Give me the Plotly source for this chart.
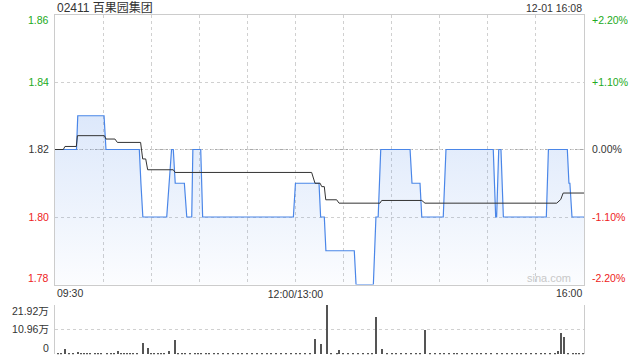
import plotly.graph_objects as go

# ---------------- data ----------------
prev_close = 1.82
title_text = "02411 百果园集团"
stamp_text = "12-01 16:08"

# price line vertices (minutes since 09:30, trading minutes; 150 = 12:00/13:00)
price_t = [0, 13.4, 14.2, 30.6, 31.8, 52.6, 53.6, 54.8, 69.7, 71.1, 72.7, 73.8, 75.0,
           80.7, 82.2, 85.3, 86.0, 90.9, 92.1, 148.7, 150.0, 164.7, 165.7, 168.0, 169.0,
           186.7, 187.8, 198.6, 200.2, 201.6, 203.2, 221.5, 222.7, 227.7, 228.8, 242.2,
           243.9, 273.4, 274.9, 275.5, 276.8, 278.2, 279.7, 306.5, 307.8, 319.6, 320.6,
           321.2, 322.5, 330]
price_v = [1.82, 1.82, 1.83, 1.83, 1.82, 1.82, 1.81, 1.80, 1.80, 1.81, 1.82, 1.82, 1.81,
           1.81, 1.80, 1.80, 1.82, 1.82, 1.80, 1.80, 1.81, 1.81, 1.80, 1.80, 1.79,
           1.79, 1.78, 1.78, 1.80, 1.80, 1.82, 1.82, 1.81, 1.81, 1.80, 1.80,
           1.82, 1.82, 1.80, 1.80, 1.82, 1.82, 1.80, 1.80, 1.82, 1.82, 1.81,
           1.81, 1.80, 1.80]

# average price line vertices
avg_t = [0, 5.2, 6.2, 13.3, 14.0, 30.8, 31.8, 37.4, 38.9, 53.4, 54.7, 56.6, 57.8, 73.8,
         74.9, 160.1, 162.2, 165.4, 166.4, 168.0, 168.9, 175.7, 177.2, 202.7, 203.8,
         228.8, 230.8, 313.0, 315.5, 317.0, 330]
avg_v = [1.8200, 1.8200, 1.8209, 1.8209, 1.8241, 1.8241, 1.8231, 1.8231, 1.8221, 1.8221,
         1.8172, 1.8172, 1.8140, 1.8140, 1.8132, 1.8132, 1.8100, 1.8100, 1.8090, 1.8090,
         1.8051, 1.8051, 1.8041, 1.8041, 1.8049, 1.8049, 1.8041, 1.8041, 1.8052, 1.8071,
         1.8071]

# volume (万股) per minute
vol_t = [6.4, 14.5, 32.6, 39.5, 55.1, 58.2, 71.3, 75.0, 87.3, 150.3, 162.4, 166.1, 169.5,
         175.7, 177.4, 200.4, 204.2, 231.0, 251.0, 314.0, 315.9, 317.4, 327.1, 329.2]
vol_v = [2.2, 1.0, 0.6, 1.5, 5.0, 2.9, 1.5, 6.4, 0.7, 0.6, 6.8, 4.7, 21.92,
         0.6, 1.8, 16.6, 2.3, 10.8, 0.5, 1.4, 9.5, 7.7, 0.6, 0.7]
small_t = [2, 4, 9, 11, 16, 18, 20, 22, 25, 27, 29, 35, 37, 41, 43, 45, 47, 49, 51, 60,
           62, 64, 66, 68, 77, 79, 81, 84, 89, 91, 94, 96, 99, 102, 105, 108, 111, 114,
           117, 120, 123, 126, 129, 132, 135, 138, 141, 144, 147, 153, 156, 159, 172,
           180, 183, 186, 189, 192, 195, 198, 207, 210, 213, 216, 219, 222, 225, 228,
           234, 237, 240, 243, 246, 249, 254, 257, 260, 263, 266, 269, 272, 276, 279,
           282, 285, 288, 291, 294, 297, 300, 303, 306, 309, 312, 320, 323, 325]
small_v = [0.4, 0.3, 0.5, 0.3, 0.4, 0.3, 0.5, 0.3, 0.4, 0.3, 0.3, 0.4, 0.5, 0.3, 0.4, 0.3,
           0.3, 0.5, 0.3, 0.4, 0.3, 0.3, 0.5, 0.4, 0.3, 0.4, 0.3, 0.3, 0.4, 0.3, 0.5, 0.3,
           0.4, 0.3, 0.3, 0.4, 0.3, 0.5, 0.3, 0.4, 0.3, 0.3, 0.4, 0.3, 0.5, 0.3, 0.4, 0.3,
           0.3, 0.4, 0.3, 0.5, 0.3, 0.4, 0.3, 0.3, 0.4, 0.5, 0.3, 0.4, 0.3, 0.3, 0.4, 0.3,
           0.5, 0.3, 0.4, 0.3, 0.3, 0.4, 0.3, 0.5, 0.3, 0.4, 0.3, 0.3, 0.4, 0.3, 0.5, 0.3,
           0.4, 0.3, 0.3, 0.4, 0.3, 0.5, 0.3, 0.4, 0.3, 0.3, 0.4, 0.3, 0.5, 0.3, 0.4, 0.3,
           0.3]

x_ticks = [30, 60, 90, 120, 150, 180, 210, 240, 270, 300]
x_ticktext = ["", "", "", "", "12:00/13:00", "", "", "", "", ""]
x_first_label = "09:30"
x_last_label = "16:00"
price_ticks = [1.80, 1.82, 1.84]
price_ticktext = ["1.80", "1.82", "1.84"]
pct_ticktext = ["-1.10%", "0.00%", "+1.10%"]
price_top_label, price_bottom_label = "1.86", "1.78"
pct_top_label, pct_bottom_label = "+2.20%", "-2.20%"
vol_max = 21.92
vol_mid_label = "10.96万"
vol_top_label = "21.92万"
vol_zero_label = "0"

# ---------------- styling / layout ----------------
W, H = 640, 360
X0, X1 = 55, 584
MT, MB = 14.5, 284.5
VT, VB = 305, 354.3
GREEN, RED, DARK = "#22aa22", "#ee2222", "#333333"
FONT = "Liberation Sans, Arial, Noto Sans CJK SC, sans-serif"


def fx(px):
    return px / W


def fy(py):
    return 1 - py / H


def colored(texts, vals):
    out = []
    for t, v in zip(texts, vals):
        c = GREEN if v > prev_close + 1e-9 else (RED if v < prev_close - 1e-9 else DARK)
        out.append(f"<span style='color:{c}'>{t}</span>")
    return out


fig = go.Figure()

fig.add_trace(go.Scatter(
    x=price_t, y=price_v, mode="lines", xaxis="x", yaxis="y",
    line=dict(color="#4a86e8", width=1.2),
    fill="tozeroy",
    fillgradient=dict(type="vertical",
                      colorscale=[[0, "rgba(74,134,232,0.02)"], [1, "rgba(74,134,232,0.29)"]],
                      start=1.78, stop=1.86),
    hoverinfo="skip"))
fig.add_trace(go.Scatter(
    x=avg_t, y=avg_v, mode="lines", xaxis="x", yaxis="y",
    line=dict(color="#333333", width=1), hoverinfo="skip"))
# carrier for right percentage axis
fig.add_trace(go.Scatter(
    x=avg_t, y=avg_v, mode="lines", xaxis="x", yaxis="y2",
    line=dict(color="rgba(0,0,0,0)", width=0), hoverinfo="skip"))
fig.add_trace(go.Bar(
    x=vol_t + small_t, y=vol_v + small_v, xaxis="x2", yaxis="y3",
    width=0.7, marker=dict(color="#555555", line=dict(width=0)), hoverinfo="skip"))

pct_vals = [prev_close * (1 - 0.011), prev_close, prev_close * (1 + 0.011)]

fig.update_layout(
    width=W, height=H, margin=dict(l=0, r=0, t=0, b=0),
    template="none", showlegend=False, bargap=0,
    paper_bgcolor="white", plot_bgcolor="white",
    font=dict(family=FONT, size=10.5, color=DARK),
    xaxis=dict(domain=[fx(X0), fx(X1)], range=[0, 330], anchor="y",
               tickvals=x_ticks, ticktext=x_ticktext,
               showgrid=True, gridcolor="#d0d0d0", griddash="dot", gridwidth=1,
               showline=True, mirror=True, linecolor="#cccccc", linewidth=1,
               ticks="", zeroline=False, automargin=False, fixedrange=True),
    yaxis=dict(domain=[fy(MB), fy(MT)], range=[1.78, 1.86], anchor="x",
               tickvals=price_ticks, ticktext=colored(price_ticktext, price_ticks),
               showgrid=True, gridcolor="#d0d0d0", griddash="dot", gridwidth=1,
               showline=True, mirror=True, linecolor="#cccccc", linewidth=1,
               ticks="outside", ticklen=3, tickcolor="rgba(0,0,0,0)",
               zeroline=False, automargin=False),
    yaxis2=dict(overlaying="y", side="right", range=[1.78, 1.86], anchor="x",
                tickvals=pct_vals, ticktext=colored(pct_ticktext, pct_vals),
                showgrid=False, showline=False, zeroline=False,
                ticks="outside", ticklen=5, tickcolor="rgba(0,0,0,0)",
                automargin=False),
    xaxis2=dict(domain=[fx(X0), fx(X1)], range=[0, 330], anchor="y3",
                showgrid=False, showticklabels=False, showline=False,
                zeroline=False, automargin=False),
    yaxis3=dict(domain=[fy(VB), fy(VT)], range=[0, vol_max * 1.0015], anchor="x2",
                tickvals=[vol_max / 2, vol_max], ticktext=[vol_mid_label, ""],
                showgrid=True, gridcolor="#d0d0d0", griddash="dot", gridwidth=1,
                showline=True, mirror=True, linecolor="#cccccc", linewidth=1,
                ticks="outside", ticklen=3, tickcolor="rgba(0,0,0,0)",
                zeroline=False, automargin=False),
)

fig.add_shape(type="line", xref="x", yref="y", x0=0, x1=330, y0=prev_close, y1=prev_close,
              line=dict(color="#aaaaaa", width=1, dash="3px,2px"), layer="below")

ann = [
    dict(text=title_text, x=fx(X0), y=fy(7.5), xanchor="left", font=dict(size=12, color=DARK)),
    dict(text=stamp_text, x=fx(X1), y=fy(7.5), xanchor="right", font=dict(size=10.5, color=DARK)),
    dict(text=price_top_label, x=fx(51), y=fy(20), xanchor="right", font=dict(color=GREEN)),
    dict(text=price_bottom_label, x=fx(51), y=fy(278), xanchor="right", font=dict(color=RED)),
    dict(text=pct_top_label, x=fx(590), y=fy(20), xanchor="left", font=dict(color=GREEN)),
    dict(text=pct_bottom_label, x=fx(590), y=fy(278), xanchor="left", font=dict(color=RED)),
    dict(text=x_first_label, x=fx(X0), y=fy(292.5), xanchor="left", font=dict(color=DARK)),
    dict(text=x_last_label, x=fx(X1), y=fy(292.5), xanchor="right", font=dict(color=DARK)),
    dict(text=vol_top_label, x=fx(51), y=fy(311), xanchor="right", font=dict(color=DARK)),
    dict(text=vol_zero_label, x=fx(51), y=fy(347.5), xanchor="right", font=dict(color=DARK)),
    dict(text="sina.com", x=fx(573), y=fy(277.5), xanchor="right",
         font=dict(size=11, color="#c8c8c8")),
]
for a in ann:
    a.update(xref="paper", yref="paper", yanchor="middle", showarrow=False)
    fig.add_annotation(**a)

fig.write_html("out.html")
